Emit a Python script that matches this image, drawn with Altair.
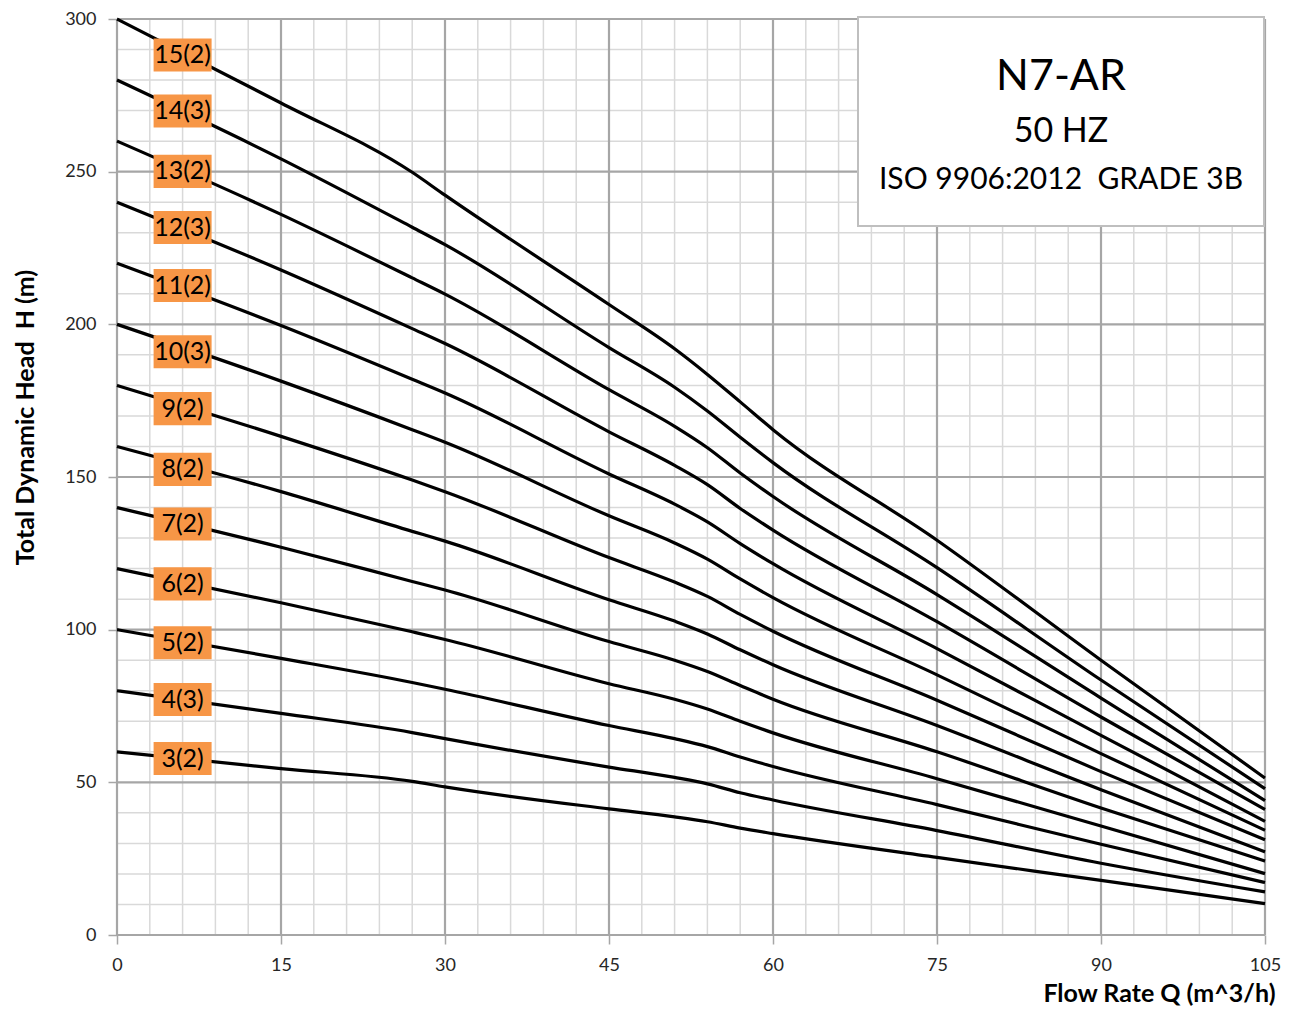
import altair as alt
import pandas as pd

# Flow rate points (m^3/h)
Q = [0, 15, 27, 30, 45, 51, 54, 57, 60, 75, 90, 105]

# Head (m) per model (stages)
H3 = [60, 54.5, 50.3, 48.5, 41.3, 38.7, 37.1, 35.0, 33.2, 25.4, 17.9, 10.3]
H4 = [80, 72.6, 66.3, 64.3, 55.0, 51.6, 49.5, 46.6, 44.2, 34.2, 23.5, 14.1]
H5 = [100, 90.6, 82.7, 80.5, 68.6, 64.3, 61.7, 58.3, 55.2, 42.7, 29.7, 17.2]
H6 = [120, 108.8, 99.3, 96.8, 82.3, 77.2, 74.0, 70.0, 66.2, 51.2, 35.7, 20.1]
H7 = [140, 127.0, 115.8, 113.0, 96.1, 90.0, 86.3, 81.7, 77.2, 60.0, 41.6, 24.2]
H8 = [160, 145.2, 132.2, 129.0, 109.8, 102.8, 98.6, 93.4, 88.5, 68.6, 47.6, 27.2]
H9 = [180, 163.3, 149.0, 145.2, 123.6, 115.6, 110.9, 105.0, 99.5, 76.9, 53.5, 31.2]
H10 = [200, 181.4, 165.5, 161.4, 137.3, 128.4, 123.1, 116.6, 110.5, 85.2, 59.4, 34.3]
H11 = [220, 199.6, 182.0, 177.5, 151.0, 141.1, 135.3, 128.2, 121.6, 93.8, 65.4, 37.2]
H12 = [240, 217.8, 198.6, 193.7, 164.8, 153.8, 147.5, 139.7, 132.6, 102.6, 71.4, 41.1]
H13 = [260, 236.0, 215.2, 209.9, 178.6, 166.6, 159.6, 151.3, 143.6, 111.5, 77.6, 44.0]
H14 = [280, 254.2, 231.8, 226.1, 192.4, 179.4, 171.6, 163.0, 154.7, 120.3, 83.5, 47.9]
H15 = [300, 272.5, 249.8, 242.3, 206.5, 192.0, 183.6, 174.6, 165.5, 129.3, 90.0, 51.4]

curve_names = ["3(2)", "4(3)", "5(2)", "6(2)", "7(2)", "8(2)", "9(2)", "10(3)",
               "11(2)", "12(3)", "13(2)", "14(3)", "15(2)"]
curve_heads = [H3, H4, H5, H6, H7, H8, H9, H10, H11, H12, H13, H14, H15]

# Label anchors
label_Q = 6.0
label_H = [57.8, 77.1, 95.7, 115.0, 134.6, 152.5, 172.4, 191.0, 212.7, 231.7,
           250.1, 269.9, 288.2]

# Axis ticks
x_major = [0, 15, 30, 45, 60, 75, 90, 105]
y_major = [0, 50, 100, 150, 200, 250, 300]
x_minor = [3, 6, 9, 12, 18, 21, 24, 27, 33, 36, 39, 42, 48, 51, 54, 57, 63, 66,
           69, 72, 78, 81, 84, 87, 93, 96, 99, 102]
y_minor = [10, 20, 30, 40, 60, 70, 80, 90, 110, 120, 130, 140, 160, 170, 180,
           190, 210, 220, 230, 240, 260, 270, 280, 290]

info_lines = ["N7-AR", "50 HZ", "ISO 9906:2012\u00a0 GRADE 3B"]

rows = []
for name, hs in zip(curve_names, curve_heads):
    for q, h in zip(Q, hs):
        rows.append({"Q": q, "H": h, "model": name})
curves_df = pd.DataFrame(rows)
labels_df = pd.DataFrame({"Q": [label_Q] * len(label_H), "H": label_H, "t": curve_names})

xs = alt.Scale(domain=[0, 105], nice=False, zero=False)
ys = alt.Scale(domain=[0, 300], nice=False, zero=False)

MAJOR = "#A6A6A6"
MINOR = "#D9D9D9"
FONT = "Lato"

x_axis = alt.Axis(values=x_major, grid=False, domain=False, tickSize=9,
                  tickColor=MAJOR, tickWidth=1.5, labelFontSize=18,
                  labelColor="#262626", labelPadding=12, labelFont=FONT,
                  labelFlush=False,
                  title="Flow Rate Q (m^3/h)", titleFont=FONT, titleFontSize=25,
                  titleFontWeight="bold", titleColor="#000000",
                  titleX=1158, titleY=58, titleAlign="right",
                  titleBaseline="middle", format="d")
y_axis = alt.Axis(values=y_major, grid=False, domain=False, tickSize=9,
                  tickColor=MAJOR, tickWidth=1.5, labelFontSize=18,
                  labelColor="#262626", labelPadding=12, labelFont=FONT,
                  labelFlush=False,
                  title="Total Dynamic Head\u00a0 H (m)", titleFont=FONT,
                  titleFontSize=25, titleFontWeight="bold", titleColor="#000000",
                  titleX=-79, titleY=398, titleAlign="center",
                  titleBaseline="bottom", titleAngle=270, format="d")


def X(field):
    return alt.X(field, type="quantitative", scale=xs, axis=x_axis)


def Y(field):
    return alt.Y(field, type="quantitative", scale=ys, axis=y_axis)


minor_v = alt.Chart(pd.DataFrame({"Q": x_minor})).mark_rule(
    color=MINOR, strokeWidth=1.5).encode(x=X("Q"))
minor_h = alt.Chart(pd.DataFrame({"H": y_minor})).mark_rule(
    color=MINOR, strokeWidth=1.5).encode(y=Y("H"))
major_v = alt.Chart(pd.DataFrame({"Q": x_major})).mark_rule(
    color=MAJOR, strokeWidth=2.2).encode(x=X("Q"))
major_h = alt.Chart(pd.DataFrame({"H": y_major})).mark_rule(
    color=MAJOR, strokeWidth=2.2).encode(y=Y("H"))

one = pd.DataFrame({"k": [0]})
info_box = alt.Chart(one).mark_rect(fill="white", stroke="#BFBFBF",
                                    strokeWidth=2).encode(
    x=alt.value(741), x2=alt.value(1147), y=alt.value(-2), y2=alt.value(207))
info1 = alt.Chart(one).mark_text(text=info_lines[0], fontSize=43, font=FONT,
                                 color="#000000", align="center",
                                 baseline="middle").encode(
    x=alt.value(944), y=alt.value(58))
info2 = alt.Chart(one).mark_text(text=info_lines[1], fontSize=34, font=FONT,
                                 color="#000000", align="center",
                                 baseline="middle").encode(
    x=alt.value(944), y=alt.value(113))
info3 = alt.Chart(one).mark_text(text=info_lines[2], fontSize=30, font=FONT,
                                 color="#000000", align="center",
                                 baseline="middle").encode(
    x=alt.value(944), y=alt.value(161))

lines = alt.Chart(curves_df).mark_line(color="black", strokeWidth=3.2,
                                       interpolate="monotone").encode(
    x=X("Q"), y=Y("H"), detail="model:N")

boxes = alt.Chart(labels_df).mark_point(
    shape="M-1,-0.57L1,-0.57L1,0.57L-1,0.57Z", size=58 * 58, filled=True,
    fill="#F79646", opacity=1, strokeWidth=0).encode(x=X("Q"), y=Y("H"))
texts = alt.Chart(labels_df).mark_text(fontSize=25, font=FONT, color="black",
                                       align="center", baseline="middle").encode(
    x=X("Q"), y=Y("H"), text="t:N")

chart = alt.layer(minor_v, minor_h, major_v, major_h, info_box, info1, info2,
                  info3, lines, boxes, texts).properties(
    width=1148, height=916,
    autosize=alt.AutoSizeParams(type="none"),
    padding={"left": 109, "top": 11, "right": 18, "bottom": 74},
).configure_view(stroke="transparent").configure(font=FONT)

chart.save("out.html", embed_options={"renderer": "svg", "actions": False})
